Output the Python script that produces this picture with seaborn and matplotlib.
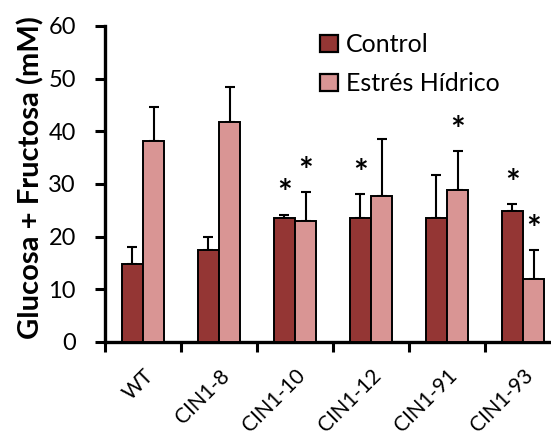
import numpy as np
import pandas as pd
import matplotlib
matplotlib.use("Agg")
import matplotlib.pyplot as plt
import matplotlib.transforms as mtransforms
import seaborn as sns
from matplotlib.patches import Patch

categories = ["WT", "CIN1-8", "CIN1-10", "CIN1-12", "CIN1-91", "CIN1-93"]
series_names = ["Control", "Estrés Hídrico"]
control_vals = [14.9, 17.5, 23.5, 23.5, 23.5, 24.9]
control_err = [3.2, 2.5, 0.7, 4.6, 8.2, 1.3]
stress_vals = [38.1, 41.7, 23.0, 27.8, 28.8, 12.0]
stress_err = [6.5, 6.8, 5.4, 10.7, 7.5, 5.5]
control_sig = [False, False, True, True, False, True]
stress_sig = [False, False, True, False, True, True]
colors = ["#943634", "#D99594"]

sns.set_style("white")
plt.rcParams['font.family'] = ['Lato', 'DejaVu Sans']
plt.rcParams.update({"text.color": "black", "axes.labelcolor": "black",
                     "xtick.color": "black", "ytick.color": "black"})

df = pd.DataFrame({
    "cat": categories * 2,
    "grp": [series_names[0]] * len(categories) + [series_names[1]] * len(categories),
    "val": control_vals + stress_vals,
})

fig = plt.figure(figsize=(5.51, 4.38), dpi=100)
ax = fig.add_axes([105 / 551, 96 / 438, 456 / 551, 316 / 438])

sns.barplot(data=df, x="cat", y="val", hue="grp", order=categories,
            hue_order=series_names, palette=colors, width=0.56,
            errorbar=None, edgecolor="black", linewidth=1.4,
            saturation=1, ax=ax, legend=False, zorder=3)

errs = [control_err, stress_err]
sigs = [control_sig, stress_sig]
vals = [control_vals, stress_vals]
bar_containers = list(ax.containers)
for i, cont in enumerate(bar_containers):
    xs = [p.get_x() + p.get_width() / 2 for p in cont.patches]
    ax.errorbar(xs, vals[i], yerr=[np.zeros(len(xs)), errs[i]], fmt="none",
                ecolor="black", elinewidth=1.5, capsize=3.6, capthick=1.5, zorder=2)
    for x, v, e, s in zip(xs, vals[i], errs[i], sigs[i]):
        if s:
            ax.annotate("*", (x, v + e), xytext=(0, 3), textcoords="offset points",
                        ha="center", va="bottom", fontsize=25, fontweight="bold",
                        color="black")

ax.set_xlim(-0.5, 5.5)
ax.set_ylim(0, 60)
ax.set_yticks(np.arange(0, 61, 10))
ax.set_xticks(np.arange(-0.5, 5.6, 1.0))
ax.set_xticklabels([])
ax.set_xticks(np.arange(len(categories)), minor=True)
ax.set_xticklabels(categories, minor=True, rotation=45, ha="right",
                   rotation_mode="anchor", fontsize=15)
offset = mtransforms.ScaledTranslation(11 / 72, 0, fig.dpi_scale_trans)
for lab in ax.get_xticklabels(minor=True):
    lab.set_transform(lab.get_transform() + offset)
ax.tick_params(axis="x", which="minor", length=0, pad=17, colors="black")
ax.tick_params(axis="x", which="major", direction="out", length=7, width=2.2, bottom=True,
               colors="black")
ax.tick_params(axis="y", direction="out", length=7, width=2.2, left=True, labelsize=17, pad=14,
               colors="black")
for side in ["top", "right"]:
    ax.spines[side].set_visible(False)
for side in ["left", "bottom"]:
    ax.spines[side].set_linewidth(2.4)
    ax.spines[side].set_color("black")
ax.set_xlabel("")
ax.set_ylabel("Glucosa + Fructosa (mM)", fontsize=21, fontweight="bold", color="black")
ax.yaxis.set_label_coords(-0.133, 0.52)

handles = [Patch(facecolor=c, edgecolor="black", linewidth=1.6) for c in colors]
fig.legend(handles, series_names, loc="upper left", bbox_to_anchor=(320 / 551, 1 - 33 / 438),
           frameon=False, fontsize=18, handlelength=0.7, handleheight=0.7,
           handletextpad=0.35, labelspacing=0.65, borderaxespad=0, borderpad=0,
           labelcolor="black")

fig.savefig("out.png", dpi=100)
